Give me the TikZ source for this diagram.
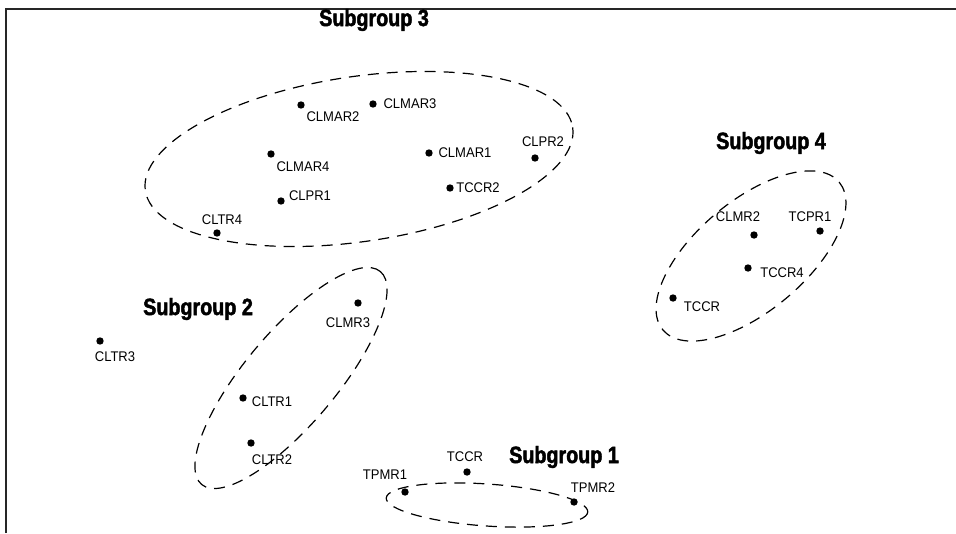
\documentclass[tikz,border=0pt]{standalone}
\usepackage{fontspec}
\newfontfamily\lblfont[FakeStretch=0.93]{Liberation Sans}
\newfontfamily\ttlfont[FakeStretch=0.84,BoldFeatures={FakeBold=2}]{Liberation Sans}
\tikzset{
  dot/.style={circle,fill=black,inner sep=0pt,minimum size=7.4pt},
  lbl/.style={inner sep=0pt,font=\lblfont\fontsize{14}{14}\selectfont},
  ttl/.style={inner sep=0pt,font=\ttlfont\bfseries\fontsize{23.5}{23.5}\selectfont},
  grp/.style={draw=black,line width=1.2pt,dash pattern=on 11pt off 8pt},
  frame/.style={line width=2.6pt,draw=black!85}
}
\begin{document}
\begin{tikzpicture}[x=1pt,y=-1pt]
\useasboundingbox (0,0) rectangle (956,533);
\coordinate (fb) at (6,533);
\coordinate (fc) at (6,9);
\coordinate (fr) at (956,9);
\draw[frame] (fb) -- (fc) -- (fr);

% Subgroup 3
\node[ttl] (t3) at (374,20) {Subgroup 3};
\draw[grp, rotate around={8.4:(359,159)}] (359,159) ellipse [x radius=216, y radius=82.5];
\node[dot] (clmar2) at (301,105) {};
\node[lbl] (lclmar2) at (333,117) {CLMAR2};
\node[dot] (clmar3) at (373,104) {};
\node[lbl] (lclmar3) at (410,104) {CLMAR3};
\node[dot] (clmar4) at (271,154) {};
\node[lbl] (lclmar4) at (303,167) {CLMAR4};
\node[dot] (clpr1) at (281,201) {};
\node[lbl] (lclpr1) at (310,196) {CLPR1};
\node[dot] (cltr4) at (217,233) {};
\node[lbl] (lcltr4) at (222,220) {CLTR4};
\node[dot] (clmar1) at (429,153) {};
\node[lbl] (lclmar1) at (465,153) {CLMAR1};
\node[dot] (tccr2) at (450,188) {};
\node[lbl] (ltccr2) at (478,188) {TCCR2};
\node[dot] (clpr2) at (535,158) {};
\node[lbl] (lclpr2) at (543,142) {CLPR2};

% Subgroup 4
\node[ttl] (t4) at (771,143) {Subgroup 4};
\draw[grp, rotate around={40:(751,256)}] (751,256) ellipse [x radius=115, y radius=55];
\node[dot] (clmr2) at (754,235) {};
\node[lbl] (lclmr2) at (738,217) {CLMR2};
\node[dot] (tcpr1) at (820,231) {};
\node[lbl] (ltcpr1) at (810,217) {TCPR1};
\node[dot] (tccr4) at (748,268) {};
\node[lbl] (ltccr4) at (782,273) {TCCR4};
\node[dot] (tccra) at (673,298) {};
\node[lbl] (ltccra) at (702,307) {TCCR};

% Subgroup 2
\node[ttl] (t2) at (198,309) {Subgroup 2};
\draw[grp, rotate around={50:(291,378)}] (291,378) ellipse [x radius=139, y radius=46];
\node[dot] (cltr3) at (100,341) {};
\node[lbl] (lcltr3) at (115,357) {CLTR3};
\node[dot] (clmr3) at (358,303) {};
\node[lbl] (lclmr3) at (348,323) {CLMR3};
\node[dot] (cltr1) at (243,398) {};
\node[lbl] (lcltr1) at (272,402) {CLTR1};
\node[dot] (cltr2) at (251,443) {};
\node[lbl] (lcltr2) at (272,460) {CLTR2};

% Subgroup 1
\node[ttl] (t1) at (564,457) {Subgroup 1};
\draw[grp, rotate around={-4:(487,505)}] (487,505) ellipse [x radius=101, y radius=21];
\node[dot] (tccrb) at (467,472) {};
\node[lbl] (ltccrb) at (465,457) {TCCR};
\node[dot] (tpmr1) at (405,492) {};
\node[lbl] (ltpmr1) at (385,475) {TPMR1};
\node[dot] (tpmr2) at (574,502) {};
\node[lbl] (ltpmr2) at (593,488) {TPMR2};
\end{tikzpicture}
\end{document}
